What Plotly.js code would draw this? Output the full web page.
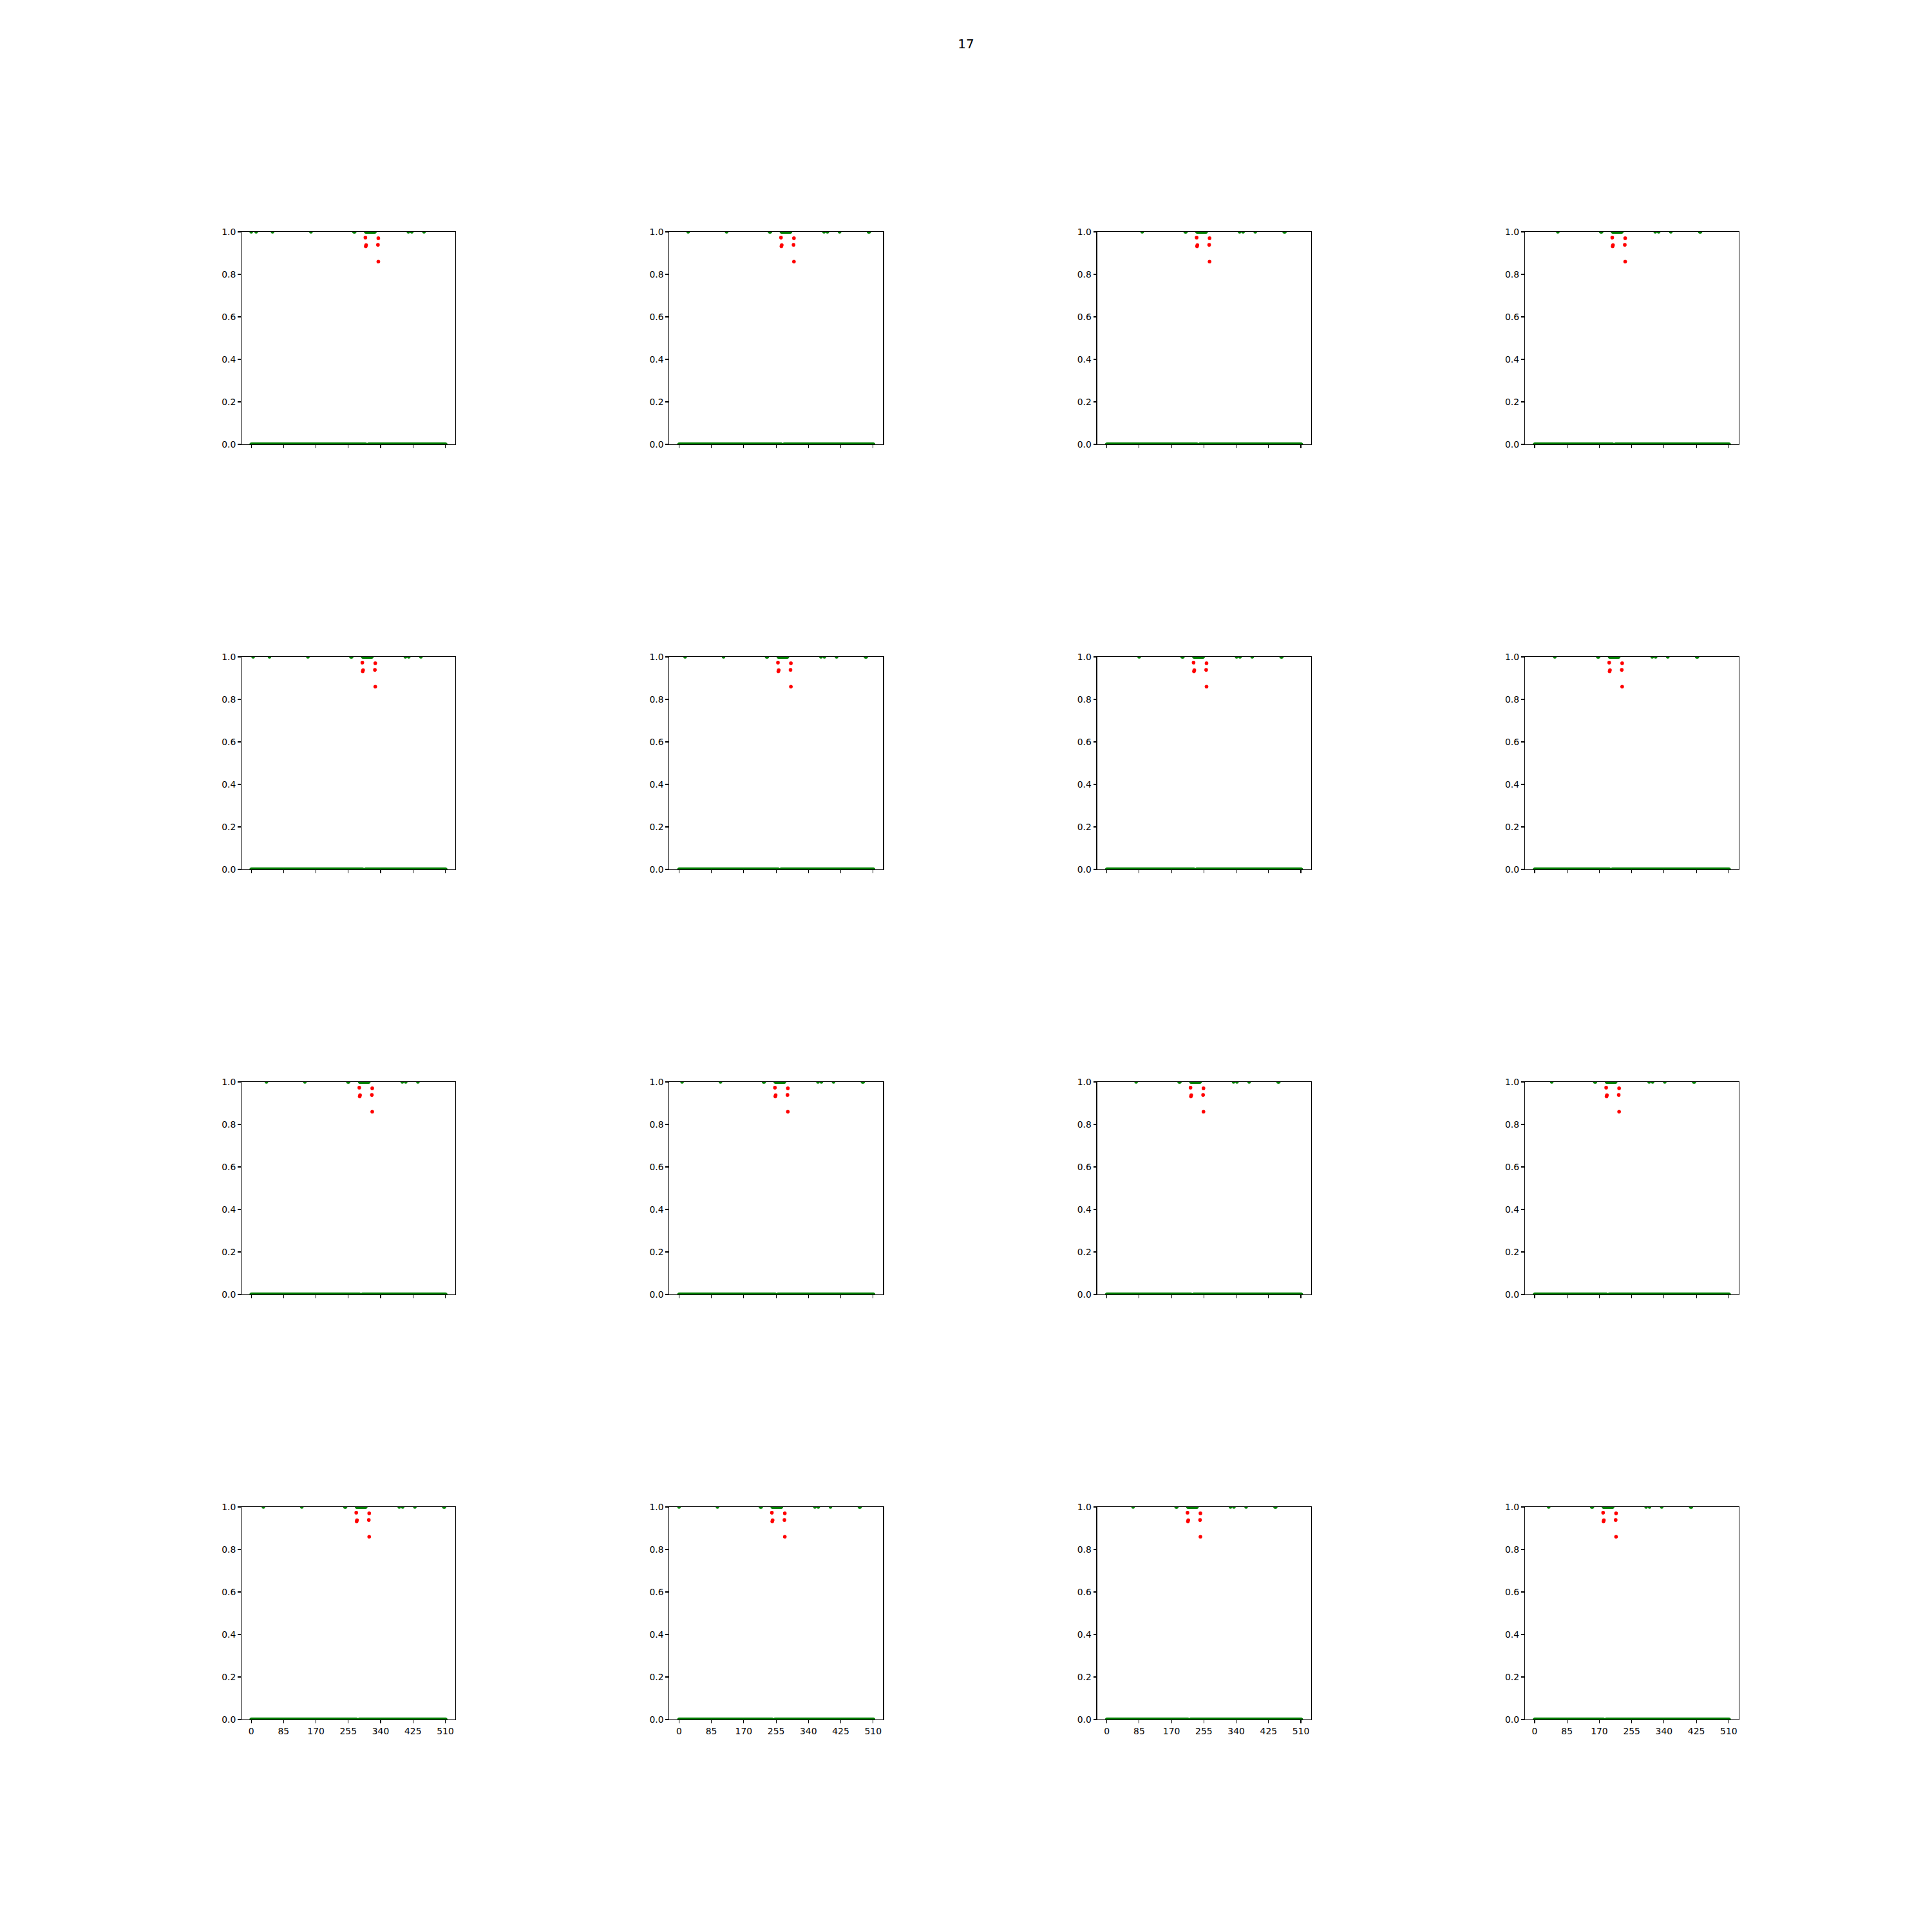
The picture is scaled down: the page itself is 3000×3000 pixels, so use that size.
<!DOCTYPE html>
<html>
<head>
<meta charset="utf-8">
<script src="https://cdn.plot.ly/plotly-3.0.1.min.js"></script>
<style>html,body{margin:0;padding:0;background:#ffffff;}</style>
</head>
<body>
<div id="chart" style="width:3000px;height:3000px;"></div>
<script>
// ---- data ----
const figTitle = '17';
const seqLength = 632;                       // positions 0..631 of the underlying sequence
const zeroGap = [302, 303, 304, 305, 306, 307]; // positions absent from the y = 0 band
const oneIdx = [0, 13, 56, 157, 270, 272,
  301, 302, 303, 304, 305, 306, 307, 308, 309, 310, 311, 312, 313,
  314, 315, 316, 317, 318, 319, 320, 321, 322, 323, 324, 325,
  413, 422, 454, 530, 532];                  // green points at y = 1
const redIdx = [300, 301, 302, 333, 334, 334];
const redVal = [0.973, 0.932, 0.938, 0.939, 0.970, 0.860];
const windowStart = [0, 32, 64, 96, 8, 40, 72, 104, 16, 48, 80, 112, 24, 56, 88, 120];
const windowLen = 512;
const xTickVals = [0, 85, 170, 255, 340, 425, 510];
const yTickVals = [0, 0.2, 0.4, 0.6, 0.8, 1.0];
const yTickText = ['0.0', '0.2', '0.4', '0.6', '0.8', '1.0'];

(function () {
  // ---- styling ----
  const GREEN = '#008000';
  const RED = '#ff0000';
  const W = 3000, H = 3000;
  const nRows = 4, nCols = 4;
  const figLeft = 0.125, figRight = 0.9, figTop = 0.88, figBottom = 0.11;
  const space = 1.0;
  const axW = (figRight - figLeft) / (nCols + (nCols - 1) * space);
  const axH = (figTop - figBottom) / (nRows + (nRows - 1) * space);
  const xPad = 0.05 * (windowLen - 1);

  const traces = [];
  const layout = {
    width: W, height: H,
    margin: {l: 0, r: 0, t: 0, b: 0, pad: 0},
    paper_bgcolor: '#ffffff', plot_bgcolor: '#ffffff',
    showlegend: false,
    font: {family: 'DejaVu Sans, sans-serif', size: 13.9, color: '#000000'},
    title: {
      text: figTitle, font: {size: 20, color: '#000000'},
      x: 0.5, xanchor: 'center', xref: 'paper',
      y: 1 - 67.7 / H, yanchor: 'middle', yref: 'container'
    }
  };

  const zeroSet = new Set(zeroGap);
  for (let k = 0; k < nRows * nCols; k++) {
    const r = Math.floor(k / nCols), c = k % nCols;
    const off = windowStart[k];
    const sfx = k === 0 ? '' : String(k + 1);
    const xa = 'x' + sfx, ya = 'y' + sfx;

    const zx = [], zy = [];
    for (let g = off; g < Math.min(off + windowLen, seqLength); g++) {
      if (!zeroSet.has(g)) { zx.push(g - off); zy.push(0); }
    }
    const ox = [], oy = [];
    oneIdx.forEach(g => { if (g >= off && g < off + windowLen) { ox.push(g - off); oy.push(1); } });
    const rx = [], ry = [];
    redIdx.forEach((g, i) => { if (g >= off && g < off + windowLen) { rx.push(g - off); ry.push(redVal[i]); } });

    traces.push({type: 'scatter', mode: 'markers', x: zx, y: zy, xaxis: xa, yaxis: ya,
      marker: {color: GREEN, size: 5.5, line: {width: 0}}, hoverinfo: 'skip'});
    traces.push({type: 'scatter', mode: 'markers', x: ox, y: oy, xaxis: xa, yaxis: ya,
      marker: {color: GREEN, size: 5.5, line: {width: 0}}, hoverinfo: 'skip'});
    traces.push({type: 'scatter', mode: 'markers', x: rx, y: ry, xaxis: xa, yaxis: ya,
      marker: {color: RED, size: 5.6, line: {width: 0}}, hoverinfo: 'skip'});

    const x0 = figLeft + c * axW * (1 + space);
    const y1 = figTop - r * axH * (1 + space);
    const common = {
      showline: true, mirror: true, linecolor: '#000000', linewidth: 1.1,
      ticks: 'outside', ticklen: 4.9, tickwidth: 1.1, tickcolor: '#000000',
      showgrid: false, zeroline: false, fixedrange: true,
      tickfont: {family: 'DejaVu Sans, sans-serif', size: 13.9, color: '#000000'}
    };
    layout['xaxis' + sfx] = Object.assign({}, common, {
      domain: [x0, x0 + axW], anchor: ya,
      range: [-xPad, windowLen - 1 + xPad],
      tickmode: 'array', tickvals: xTickVals, ticktext: xTickVals.map(String),
      showticklabels: r === nRows - 1
    });
    layout['yaxis' + sfx] = Object.assign({}, common, {
      domain: [y1 - axH, y1], anchor: xa,
      range: [0, 1],
      tickmode: 'array', tickvals: yTickVals, ticktext: yTickText
    });
  }

  Plotly.newPlot('chart', traces, layout, {displayModeBar: false, staticPlot: true});
})();
</script>
</body>
</html>
